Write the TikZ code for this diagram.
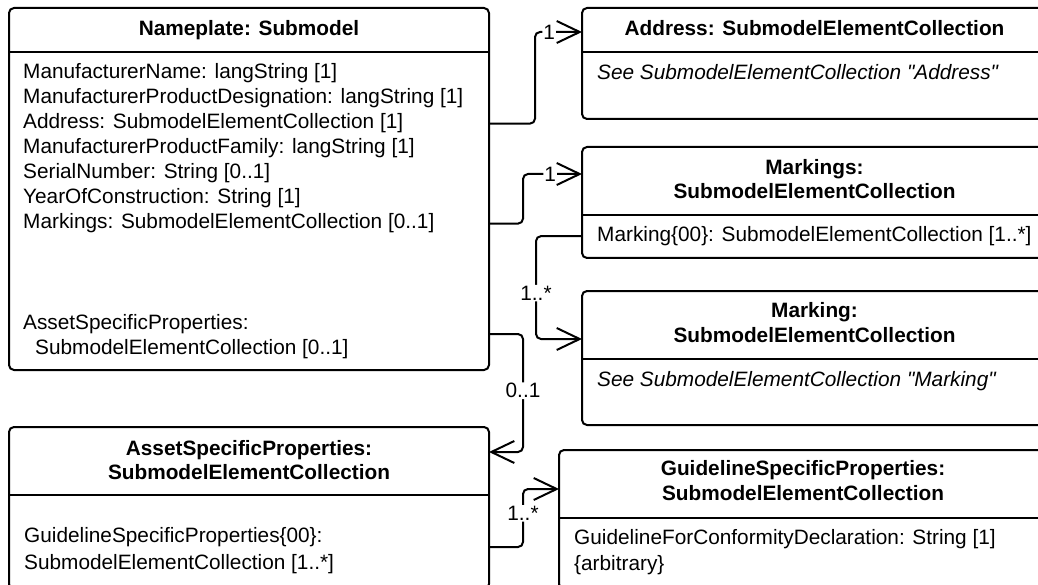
\documentclass[tikz,border=0pt]{standalone}
\usepackage{fontspec}
\setmainfont{Liberation Sans}[Ligatures=TeXOff]
\usetikzlibrary{arrows.meta}

\newcommand{\umlfont}{\fontsize{20.8}{25}\selectfont}

\tikzset{
  umlbox/.style={draw, line width=2pt, rounded corners=5pt, anchor=north west, inner sep=0pt, outer sep=0pt},
  divider/.style={line width=2pt},
  head/.style={anchor=base, inner sep=0pt, font=\umlfont\bfseries},
  attr/.style={anchor=base west, inner sep=0pt, font=\umlfont},
  note/.style={attr, font=\umlfont\itshape},
  assoc/.style={line width=2pt, rounded corners=5pt, -{Straight Barb[length=23pt,width=22pt]}},
  mult/.style={fill=white, inner sep=1pt, font=\umlfont}
}

\begin{document}
\begin{tikzpicture}[x=1pt, y=-1pt]
\useasboundingbox (0,0) rectangle (1038,585);
\clip (0,0) rectangle (1038,585);

% Nameplate
\node[umlbox, minimum width=480pt, minimum height=362pt] (nameplate) at (9,8) {};
\draw[divider] (9,52) -- (489,52);
\node[head] (npt) at (249,35.5) {Nameplate: Submodel};
\node[attr] (np1) at (23,78.5) {ManufacturerName: langString [1]};
\node[attr] (np2) at (23,104) {ManufacturerProductDesignation: langString [1]};
\node[attr] (np3) at (23,129) {Address: SubmodelElementCollection [1]};
\node[attr] (np4) at (23,154) {ManufacturerProductFamily: langString [1]};
\node[attr] (np5) at (23,179) {SerialNumber: String [0..1]};
\node[attr] (np6) at (23,204) {YearOfConstruction: String [1]};
\node[attr] (np7) at (23,229) {Markings: SubmodelElementCollection [0..1]};
\node[attr] (np8) at (23,329.5) {AssetSpecificProperties:};
\node[attr] (np9) at (35,354.5) {SubmodelElementCollection [0..1]};

% Address
\node[umlbox, minimum width=465pt, minimum height=111pt] (address) at (582,8) {};
\draw[divider] (582,52) -- (1047,52);
\node[head] (adt) at (814.5,35.5) {Address: SubmodelElementCollection};
\node[note] (ad1) at (597,79.5) {See SubmodelElementCollection "Address"};

% Markings
\node[umlbox, minimum width=465pt, minimum height=111pt] (markings) at (582,147) {};
\draw[divider] (582,215) -- (1047,215);
\node[head] (mkt1) at (814.5,174.5) {Markings:};
\node[head] (mkt2) at (814.5,198.5) {SubmodelElementCollection};
\node[attr] (mk1) at (597,241.5) {Marking\{00\}: SubmodelElementCollection [1..*]};

% Marking
\node[umlbox, minimum width=465pt, minimum height=134pt] (marking) at (582,291) {};
\draw[divider] (582,359) -- (1047,359);
\node[head] (mgt1) at (814.5,317.5) {Marking:};
\node[head] (mgt2) at (814.5,342.5) {SubmodelElementCollection};
\node[note] (mg1) at (597,386.5) {See SubmodelElementCollection "Marking"};

% AssetSpecificProperties
\node[umlbox, minimum width=480pt, minimum height=162pt] (asset) at (9,427) {};
\draw[divider] (9,495) -- (489,495);
\node[head] (ast1) at (249,455.5) {AssetSpecificProperties:};
\node[head] (ast2) at (249,479.5) {SubmodelElementCollection};
\node[attr] (as1) at (24,542.5) {GuidelineSpecificProperties\{00\}:};
\node[attr] (as2) at (24,569) {SubmodelElementCollection [1..*]};

% GuidelineSpecificProperties
\node[umlbox, minimum width=488pt, minimum height=139pt] (guideline) at (559,450) {};
\draw[divider] (559,518) -- (1047,518);
\node[head] (glt1) at (803,475.5) {GuidelineSpecificProperties:};
\node[head] (glt2) at (803,500.5) {SubmodelElementCollection};
\node[attr] (gl1) at (574,544.5) {GuidelineForConformityDeclaration: String [1]};
\node[attr] (gl2) at (574,570) {\{arbitrary\}};

% associations
\draw[assoc] (nameplate.east |- np3) -- ++(46,0) |- ([yshift=-24pt]address.north west) node[mult, pos=0.65] {1};
\draw[assoc] (nameplate.east |- np7) -- ++(34,0) |- ([yshift=-27pt]markings.north west) node[mult, pos=0.73] {1};
\draw[assoc] (markings.west |- mk1) -- ++(-46,0) |- ([yshift=-48pt]marking.north west) node[mult, pos=0.277] {1..*};
\draw[assoc] (nameplate.east |- np8.south) -- ++(34,0) |- ([yshift=-25pt]asset.north east) node[mult, pos=0.24] {0..1};
\draw[assoc] (asset.east |- as1.south) -- ++(34,0) |- ([yshift=-39pt]guideline.north west) node[mult, pos=0.29] {1..*};
\end{tikzpicture}
\end{document}
